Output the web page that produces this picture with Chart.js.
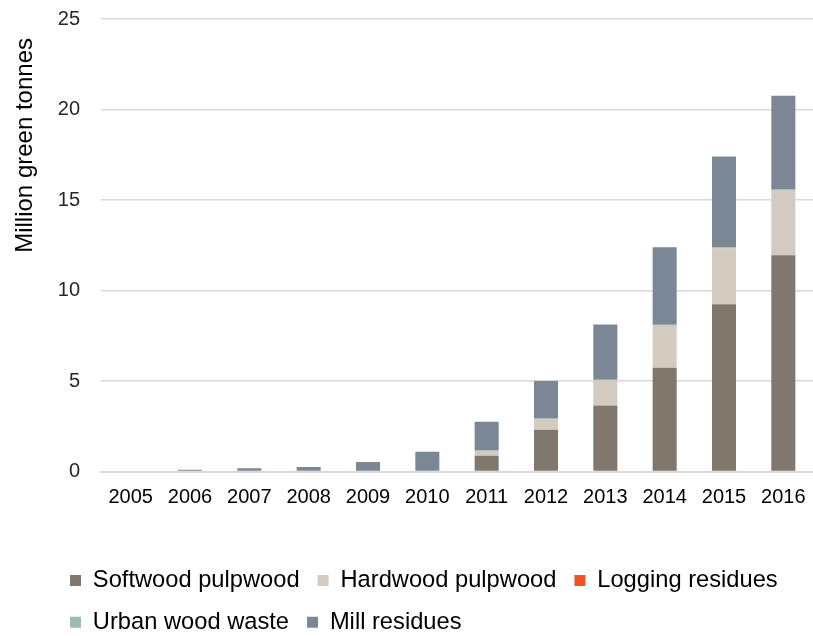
<!DOCTYPE html>
<html>
<head>
<meta charset="utf-8">
<script src="https://cdn.jsdelivr.net/npm/chart.js@4.4.0/dist/chart.umd.min.js"></script>
<style>
  html, body { margin: 0; padding: 0; background: #fff; }
  #wrap { width: 813px; height: 636px; position: relative; }
</style>
</head>
<body>
<div id="wrap"><canvas id="mychart"></canvas></div>
<script>
/* [ Data ] */
const years = ['2005', '2006', '2007', '2008', '2009', '2010', '2011', '2012', '2013', '2014', '2015', '2016'];
const softwood = [0, 0, 0, 0, 0, 0, 0.88, 2.31, 3.65, 5.73, 9.25, 11.95];
const hardwood = [0, 0, 0, 0, 0, 0, 0.26, 0.59, 1.38, 2.33, 3.07, 3.57];
const logging  = [0, 0, 0, 0, 0, 0, 0, 0, 0, 0, 0, 0];
const urban    = [0, 0, 0, 0, 0, 0, 0.02, 0.03, 0.05, 0.05, 0.06, 0.06];
const mill     = [0, 0.1, 0.18, 0.25, 0.53, 1.09, 1.59, 2.07, 3.05, 4.28, 5.02, 5.18];
const yTicks   = [0, 5, 10, 15, 20, 25];

Chart.defaults.font.family = '"Liberation Sans", Arial, sans-serif';
Chart.defaults.color = '#262626';

/* [ Nudges: legend rows start under the plot, axis title sits a bit lower ] */
const nudge = {
    id: 'nudge',
    afterLayout(chart) {
        chart.legend.left += 52;
        chart.legend.top += 8;
        chart.scales.y.top += 19;
    }
};

const ctx = document.getElementById('mychart').getContext('2d');
let mychart = new Chart(ctx, {
    type: 'bar',
    data: {
        labels: years,
        datasets: [
            { label: 'Softwood pulpwood', data: softwood, backgroundColor: '#80776d' },
            { label: 'Hardwood pulpwood', data: hardwood, backgroundColor: '#d3cbc0' },
            { label: 'Logging residues', data: logging, backgroundColor: '#f0522a' },
            { label: 'Urban wood waste', data: urban, backgroundColor: '#9dbcb2' },
            { label: 'Mill residues', data: mill, backgroundColor: '#7b8795' }
        ]
    },
    options: {
        responsive: true,
        maintainAspectRatio: false,
        animation: false,
        layout: { padding: 0 },
        datasets: { bar: { barPercentage: 1, categoryPercentage: 0.405 } },
        plugins: {
            tooltip: { enabled: false },
            legend: {
                position: 'bottom',
                align: 'start',
                labels: {
                    boxWidth: 11,
                    boxHeight: 11,
                    padding: 18,
                    color: '#000',
                    font: { size: 23.7 }
                }
            }
        },
        scales: {
            x: {
                stacked: true,
                grid: { display: false },
                border: { display: true, color: '#d9d9d9', width: 2 },
                ticks: { font: { size: 20 }, color: '#000', padding: 6 },
                afterFit(scale) { scale.height = 71; }
            },
            y: {
                stacked: true,
                min: 0,
                max: 25,
                afterBuildTicks(scale) { scale.ticks = yTicks.map(v => ({ value: v })); },
                grid: { color: '#d9d9d9', lineWidth: 1.5, drawTicks: true, tickLength: 14, tickColor: 'rgba(0,0,0,0)' },
                border: { display: false },
                ticks: { font: { size: 20 }, color: '#262626', padding: 7 },
                title: {
                    display: true,
                    text: 'Million green tonnes',
                    align: 'end',
                    font: { size: 24 },
                    color: '#000',
                    padding: { top: 11, bottom: 0 }
                },
                afterFit(scale) { scale.width = 101; }
            }
        }
    },
    plugins: [nudge]
});
</script>
</body>
</html>
